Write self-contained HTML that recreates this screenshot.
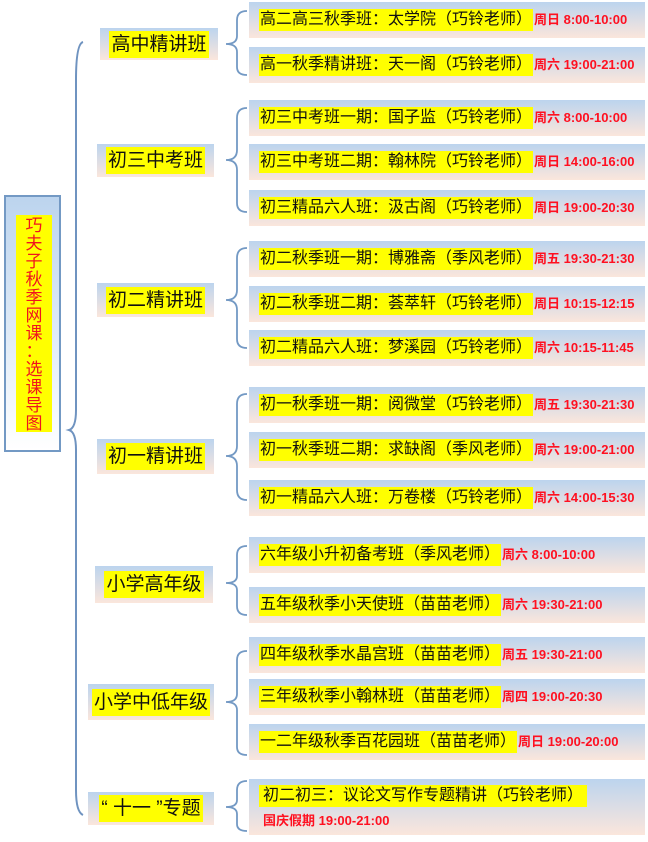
<!DOCTYPE html>
<html><head><meta charset="utf-8"><style>
body{margin:0;width:648px;height:842px;background:#fff;position:relative;overflow:hidden;font-family:"Liberation Sans","Noto Sans CJK SC",sans-serif}
.b{position:absolute;background:linear-gradient(#bcd4ee,#fbe6dc);}
.h{background:#ffff00;color:#111;white-space:nowrap}
.r{position:absolute;left:249px;width:396px;height:36px}
.r .t{position:absolute;left:10px;top:7px;font-size:16px;line-height:22px}
.r .t .h{display:inline-block;padding:0 1px}
.tm{color:#ff1020;font-weight:bold;font-size:13px;margin-left:1px}
.l1{font-size:19px;display:flex;align-items:center;justify-content:center}
.l1 .h{padding:1px 2px;line-height:25px}
</style></head><body>
<svg width="648" height="842" style="position:absolute;left:0;top:0">
<g fill="none" stroke="#6f93c0" stroke-width="2">
<path d="M83,42 Q76,44 76,80 L76,410 Q76,428 69,430 Q76,432 76,450 L76,790 Q76,812 83,815"/>
</g>
</svg>
<div class="b" style="left:4px;top:195px;width:57px;height:257px;border:2px solid #7399c4;box-sizing:border-box;background:linear-gradient(#bcd4ee,#ffffff)"></div>
<div style="position:absolute;left:16px;top:215px;width:36px;height:217px;background:#ffff00;color:#f0141e;font-size:17px;line-height:18px;text-align:center;padding-top:2px;box-sizing:border-box">巧<br>夫<br>子<br>秋<br>季<br>网<br>课<br><span style="display:inline-block;height:18px">：</span><br>选<br>课<br>导<br>图</div>

<div class="b l1" style="left:100px;top:28px;width:118px;height:32px"><span class="h">高中精讲班</span></div>
<div class="b l1" style="left:97px;top:144px;width:117px;height:33px"><span class="h">初三中考班</span></div>
<div class="b l1" style="left:97px;top:283px;width:117px;height:34px"><span class="h">初二精讲班</span></div>
<div class="b l1" style="left:97px;top:439px;width:117px;height:35px"><span class="h">初一精讲班</span></div>
<div class="b l1" style="left:95px;top:566px;width:118px;height:37px"><span class="h">小学高年级</span></div>
<div class="b l1" style="left:88px;top:684px;width:126px;height:36px"><span class="h">小学中低年级</span></div>
<div class="b l1" style="left:88px;top:792px;width:126px;height:33px"><span class="h">“&nbsp;十一&nbsp;”专题</span></div>

<div class="b r" style="top:2px"><div class="t"><span class="h">高二高三秋季班：太学院（巧铃老师）</span><span class="tm">周日 8:00-10:00</span></div></div>
<div class="b r" style="top:47px"><div class="t"><span class="h">高一秋季精讲班：天一阁（巧铃老师）</span><span class="tm">周六 19:00-21:00</span></div></div>
<div class="b r" style="top:100px"><div class="t"><span class="h">初三中考班一期：国子监（巧铃老师）</span><span class="tm">周六 8:00-10:00</span></div></div>
<div class="b r" style="top:144px"><div class="t"><span class="h">初三中考班二期：翰林院（巧铃老师）</span><span class="tm">周日 14:00-16:00</span></div></div>
<div class="b r" style="top:190px"><div class="t"><span class="h">初三精品六人班：汲古阁（巧铃老师）</span><span class="tm">周日 19:00-20:30</span></div></div>
<div class="b r" style="top:241px"><div class="t"><span class="h">初二秋季班一期：博雅斋（季风老师）</span><span class="tm">周五 19:30-21:30</span></div></div>
<div class="b r" style="top:286px"><div class="t"><span class="h">初二秋季班二期：荟萃轩（巧铃老师）</span><span class="tm">周日 10:15-12:15</span></div></div>
<div class="b r" style="top:330px"><div class="t"><span class="h">初二精品六人班：梦溪园（巧铃老师）</span><span class="tm">周六 10:15-11:45</span></div></div>
<div class="b r" style="top:387px"><div class="t"><span class="h">初一秋季班一期：阅微堂（巧铃老师）</span><span class="tm">周五 19:30-21:30</span></div></div>
<div class="b r" style="top:432px"><div class="t"><span class="h">初一秋季班二期：求缺阁（季风老师）</span><span class="tm">周六 19:00-21:00</span></div></div>
<div class="b r" style="top:480px"><div class="t"><span class="h">初一精品六人班：万卷楼（巧铃老师）</span><span class="tm">周六 14:00-15:30</span></div></div>
<div class="b r" style="top:537px"><div class="t"><span class="h">六年级小升初备考班（季风老师）</span><span class="tm">周六 8:00-10:00</span></div></div>
<div class="b r" style="top:587px"><div class="t"><span class="h">五年级秋季小天使班（苗苗老师）</span><span class="tm">周六 19:30-21:00</span></div></div>
<div class="b r" style="top:637px"><div class="t"><span class="h">四年级秋季水晶宫班（苗苗老师）</span><span class="tm">周五 19:30-21:00</span></div></div>
<div class="b r" style="top:679px"><div class="t"><span class="h">三年级秋季小翰林班（苗苗老师）</span><span class="tm">周四 19:00-20:30</span></div></div>
<div class="b r" style="top:724px"><div class="t"><span class="h">一二年级秋季百花园班（苗苗老师）</span><span class="tm">周日 19:00-20:00</span></div></div>
<div class="b r" style="top:779px;height:56px"><div class="t" style="top:6px"><span class="h" style="padding:0 4px">初二初三：议论文写作专题精讲（巧铃老师）</span><br><span class="tm" style="margin-left:4px;line-height:28px">国庆假期 19:00-21:00</span></div></div>

<svg width="648" height="842" style="position:absolute;left:0;top:0;pointer-events:none">
<g fill="none" stroke="#7399c4" stroke-width="1.8">
<path d="M247,11 Q237,11 237,20 L237,36 Q237,44 226,44 Q237,44 237,52 L237,67 Q237,75 247,75"/>
<path d="M247,108 Q237,108 237,118 L237,150 Q237,160 226,160 Q237,160 237,170 L237,203 Q237,212 247,212"/>
<path d="M247,248 Q237,248 237,258 L237,290 Q237,300 226,300 Q237,300 237,310 L237,339 Q237,348 247,348"/>
<path d="M247,394 Q237,394 237,404 L237,446 Q237,456 226,456 Q237,456 237,466 L237,490 Q237,500 247,500"/>
<path d="M247,546 Q237,546 237,555 L237,576 Q237,583 226,583 Q237,583 237,590 L237,606 Q237,615 247,615"/>
<path d="M247,651 Q237,651 237,660 L237,694 Q237,702 226,702 Q237,702 237,710 L237,747 Q237,755 247,755"/>
<path d="M247,781 Q237,781 237,790 L237,800 Q237,807 226,807 Q237,807 237,814 L237,824 Q237,831 247,831"/>
</g></svg>
</body></html>
